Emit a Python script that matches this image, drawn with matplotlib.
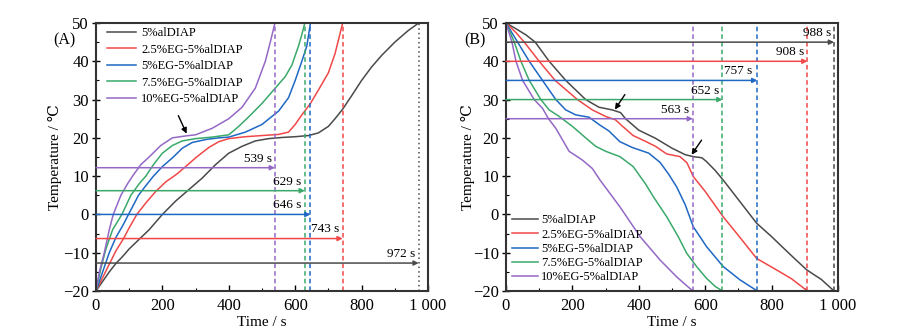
import matplotlib
matplotlib.use("Agg")
import matplotlib.pyplot as plt
from matplotlib.ticker import MultipleLocator, FuncFormatter

plt.rcParams['font.family'] = ['Liberation Serif', 'DejaVu Serif', 'Noto Sans CJK SC']
plt.rcParams['axes.unicode_minus'] = True

labels = ['5%alDIAP', '2.5%EG-5%alDIAP', '5%EG-5%alDIAP', '7.5%EG-5%alDIAP', '10%EG-5%alDIAP']
colors = ['#4a4a4a', '#f04848', '#1f68c4', '#3aa96a', '#9468c6']

# Panel A (heating)
a_t = [
    [0, 20, 40, 60, 80, 100, 130, 160, 200, 240, 280, 320, 360, 400, 440, 480, 520, 560, 600, 640, 670, 700, 720, 743, 770, 800, 830, 860, 900, 940, 972],
    [0, 20, 40, 60, 83, 100, 123, 150, 180, 210, 243, 270, 303, 340, 370, 400, 450, 500, 550, 580, 600, 620, 646, 670, 700, 720, 743],
    [0, 20, 40, 60, 80, 98, 128, 150, 173, 200, 233, 260, 290, 333, 370, 400, 450, 500, 550, 580, 600, 620, 635, 646],
    [0, 15, 30, 50, 78, 105, 130, 150, 173, 200, 230, 260, 300, 350, 400, 430, 460, 500, 540, 570, 590, 610, 620, 629],
    [0, 10, 25, 40, 52, 75, 95, 110, 135, 160, 195, 230, 270, 300, 350, 400, 440, 480, 510, 525, 539],
]
a_y = [
    [-20, -17.5, -15, -12.8, -11, -9, -6.5, -4, 0, 3.5, 6.5, 9.5, 13, 16, 17.8, 19.2, 19.8, 20.1, 20.3, 20.6, 21.3, 23, 25, 27.5, 31, 35, 38.5, 41.5, 45, 48, 50],
    [-20, -16.5, -13, -9.5, -6.3, -3.5, 0, 3, 6, 8.5, 10.5, 12.5, 15, 17.5, 19, 19.8, 20.3, 20.6, 20.9, 21.5, 23.5, 26, 29, 32.5, 37, 42, 50],
    [-20, -15, -10, -6, -3, 0, 5, 7.5, 10, 12.5, 15, 17.3, 18.8, 19.6, 20, 20.2, 21.5, 23.5, 27, 30.5, 35, 40, 44, 50],
    [-20, -14, -9, -4, 0, 5, 8, 10, 13, 16, 18, 19.2, 19.8, 20.2, 20.8, 23, 25.5, 29, 33, 36, 39, 44, 47, 50],
    [-20, -15, -10, -4, 0, 5, 8, 10, 13, 15, 18, 20, 20.5, 20.8, 22.5, 25, 28, 33, 40, 45, 50],
]
a_end = [972, 743, 646, 629, 539]
a_arrow_y = [-12.7, -6.3, 0, 6.2, 12.2]
a_label_x = [962, 733, 620, 619, 529]

# Panel B (cooling)
b_t = [
    [0, 30, 60, 88, 130, 180, 240, 280, 320, 345, 360, 400, 450, 500, 540, 564, 590, 604, 630, 654, 705, 755, 800, 836, 870, 906, 950, 988],
    [0, 30, 55, 100, 148, 215, 260, 300, 330, 350, 383, 420, 450, 484, 524, 545, 564, 600, 654, 700, 755, 815, 860, 908],
    [0, 35, 70, 110, 150, 180, 210, 250, 280, 310, 343, 380, 430, 464, 490, 514, 540, 564, 604, 654, 705, 757],
    [0, 25, 45, 70, 105, 130, 160, 200, 240, 270, 300, 343, 383, 420, 444, 484, 520, 544, 574, 604, 630, 652],
    [0, 18, 30, 50, 85, 110, 128, 150, 170, 190, 230, 260, 283, 343, 404, 464, 514, 540, 563],
]
b_y = [
    [50, 48.5, 46.9, 45, 40, 35, 30, 28, 27.3, 26.6, 25, 22, 19.9, 17.3, 15.6, 15.1, 14.8, 13.8, 11.5, 9, 3.3, -2.3, -5.8, -8.8, -11.6, -14.5, -17, -20],
    [50, 47.5, 45, 40, 35, 30, 27.3, 25.6, 24.7, 23.1, 20.6, 19.1, 17.8, 15.8, 15.1, 13.5, 9.9, 6, -0.6, -5.5, -11.5, -14.5, -16.8, -20],
    [50, 45, 40, 35, 30, 27.3, 26, 25.4, 23.5, 21.8, 19, 17.5, 16, 13.6, 10.5, 7.2, 2.5, -3.2, -8.4, -13.6, -17.1, -20],
    [50, 45, 40, 35, 30, 27.3, 25.6, 23, 20, 17.8, 16.5, 15.1, 12.5, 8, 4.6, -0.6, -6, -10.1, -13.6, -16.7, -18.8, -20],
    [50, 45, 40, 35, 30, 27.7, 25, 22.5, 19.5, 16.5, 14.2, 12, 9, 2, -5.8, -11.9, -16.3, -18.3, -20],
]
b_end = [988, 908, 757, 652, 563]
b_arrow_y = [45, 40, 35, 30, 25]
b_label_x = [980, 898, 743, 643, 553]

fig = plt.figure(figsize=(9.18, 3.33), dpi=100)
axA = fig.add_axes([96/918, 1-291/333, 332/918, 268/333])
axB = fig.add_axes([506/918, 1-291/333, 332/918, 268/333])

def fmt(v, pos):
    v = int(round(v))
    if v == 1000:
        return '1 000'
    return str(v).replace('-', '\u2212')

def style(ax, ylx):
    ax.set_xlim(0, 1000)
    ax.set_ylim(-20, 50)
    ax.xaxis.set_major_locator(MultipleLocator(200))
    ax.xaxis.set_minor_locator(MultipleLocator(100))
    ax.yaxis.set_major_locator(MultipleLocator(10))
    ax.yaxis.set_minor_locator(MultipleLocator(5))
    ax.xaxis.set_major_formatter(FuncFormatter(fmt))
    ax.yaxis.set_major_formatter(FuncFormatter(fmt))
    ax.tick_params(axis='x', which='major', direction='in', length=4, width=1, labelsize=12, pad=5)
    ax.tick_params(axis='y', which='major', direction='inout', length=6, width=1, labelsize=12, pad=2)
    ax.tick_params(which='minor', direction='in', length=2.5, width=0.8)
    for s in ax.spines.values():
        s.set_linewidth(1.5)
        s.set_color('#333333')
    ax.set_xlabel('Time / s', fontsize=11)
    ax.set_ylabel('Temperature / \u2103', fontsize=11)
    ax.yaxis.set_label_coords(ylx, 0.5)
    ax.xaxis.set_label_coords(0.5, -0.095)

for ts, ys, c, l in zip(a_t, a_y, colors, labels):
    axA.plot(ts, ys, color=c, lw=1.1, label=l)
for e, ay, lx, c in zip(a_end, a_arrow_y, a_label_x, colors):
    ls = (0, (1, 2)) if c == colors[0] else (0, (3, 2))
    axA.axvline(e, color=c, lw=1.1, ls=ls)
    axA.annotate('', xy=(e, ay), xytext=(0, ay),
                 arrowprops=dict(arrowstyle='-|>', color=c, lw=1.1, mutation_scale=7, shrinkA=0, shrinkB=0))
    axA.text(lx, ay + 0.8, f'{e} s', ha='right', va='bottom', fontsize=9.5)
axA.annotate('', xy=(273, 21.1), xytext=(248, 25.8),
             arrowprops=dict(arrowstyle='-|>', color='black', lw=1.0, mutation_scale=8, shrinkA=0, shrinkB=0))
style(axA, -0.102)
axA.legend(loc='upper left', frameon=False, prop={'size': 9}, handlelength=2.3,
           bbox_to_anchor=(0.033, 0.985), borderaxespad=0, borderpad=0,
           labelspacing=0.36, handletextpad=0.45)

for ts, ys, c, l in zip(b_t, b_y, colors, labels):
    axB.plot(ts, ys, color=c, lw=1.1, label=l)
for e, ay, lx, c in zip(b_end, b_arrow_y, b_label_x, colors):
    axB.axvline(e, color=c, lw=1.1, ls=(0, (3, 2)))
    axB.annotate('', xy=(e, ay), xytext=(0, ay),
                 arrowprops=dict(arrowstyle='-|>', color=c, lw=1.1, mutation_scale=7, shrinkA=0, shrinkB=0))
    axB.text(lx, ay + 0.8, f'{e} s', ha='right', va='bottom', fontsize=9.5)
axB.annotate('', xy=(328, 27.4), xytext=(358, 31.3),
             arrowprops=dict(arrowstyle='-|>', color='black', lw=1.0, mutation_scale=8, shrinkA=0, shrinkB=0))
axB.annotate('', xy=(559, 15.6), xytext=(589, 19.4),
             arrowprops=dict(arrowstyle='-|>', color='black', lw=1.0, mutation_scale=8, shrinkA=0, shrinkB=0))
style(axB, -0.093)
axB.legend(loc='lower left', frameon=False, prop={'size': 9}, handlelength=2.1,
           bbox_to_anchor=(0.018, 0.028), borderaxespad=0, borderpad=0,
           labelspacing=0.18, handletextpad=0.25)

fig.text(53/918, 1-40/333, '(A)', fontsize=11.5, va='center', ha='left')
fig.text(464/918, 1-40/333, '(B)', fontsize=11.5, va='center', ha='left')

fig.savefig('out.png', dpi=100)
